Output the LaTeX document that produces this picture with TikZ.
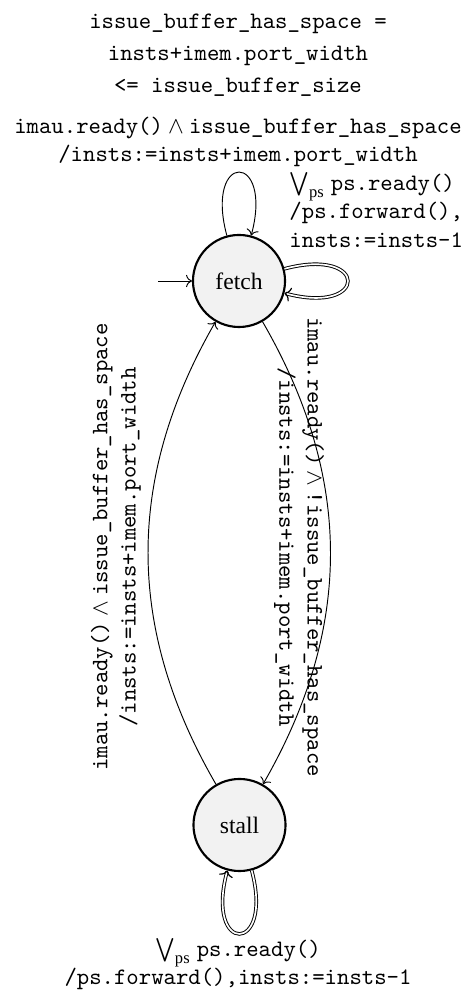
\documentclass[tikz,border=0pt]{standalone}
\usepackage{fontspec}
\setmainfont{Liberation Serif}
\usetikzlibrary{arrows.meta}
\begin{document}
\begin{tikzpicture}[x=0.4237pt,y=0.4237pt,
  every loop/.append style={looseness=9.2},
  stnode/.style={circle,draw,line width=0.9pt,fill=gray!10,minimum size=39pt,inner sep=0pt,font=\rmfamily},
  lbl/.style={inner sep=0pt,font=\ttfamily,align=center},
  conn/.style={->},
  dconn/.style={-{To[line width=0.5pt,length=2.6pt,width=6pt]},double,double distance=0.7pt}]
\useasboundingbox (0,0) rectangle (475,990);
\node[stnode] (fetch) at (239,709) {fetch};
\node[stnode] (stall) at (239.5,165) {stall};
\coordinate (init) at (158,709);
\draw[conn] (init) -- (fetch);
\draw[conn] (fetch) to[loop above] (fetch);
\draw[dconn] (fetch) to[loop right] (fetch);
\draw[dconn] (stall) to[loop below] (stall);
\draw[conn] (fetch) to[bend left=30] (stall);
\draw[conn] (stall) to[bend left=30] (fetch);
\node[lbl] (hdr) at (238,935) {issue\_buffer\_has\_space =\\[1.5pt]insts+imem.port\_width\\[1.5pt]<= issue\_buffer\_size};
\node[lbl] (toplbl) at (238,848) {imau.ready()\hspace{2.2pt}$\wedge$\hspace{2.2pt}issue\_buffer\_has\_space\\/insts:=insts+imem.port\_width};
\node[lbl,align=left,anchor=west] (rightlbl) at (289,780) {$\bigvee_{\mathrm{ps}}$\hspace{2.5pt}ps.ready()\\/ps.forward(),\\insts:=insts-1};
\node[lbl] (stalllbl) at (238,26) {$\bigvee_{\mathrm{ps}}$\hspace{2.5pt}ps.ready()\\/ps.forward(),insts:=insts-1};
\node[lbl,rotate=90] (leftedge) at (116,443) {imau.ready()\hspace{2.2pt}$\wedge$\hspace{2.2pt}issue\_buffer\_has\_space\\/insts:=insts+imem.port\_width};
\node[lbl,rotate=-90] (rightedge) at (299,443) {imau.ready()\hspace{2.2pt}$\wedge$\hspace{2.2pt}!issue\_buffer\_has\_space\\/insts:=insts+imem.port\_width};
\end{tikzpicture}
\end{document}
